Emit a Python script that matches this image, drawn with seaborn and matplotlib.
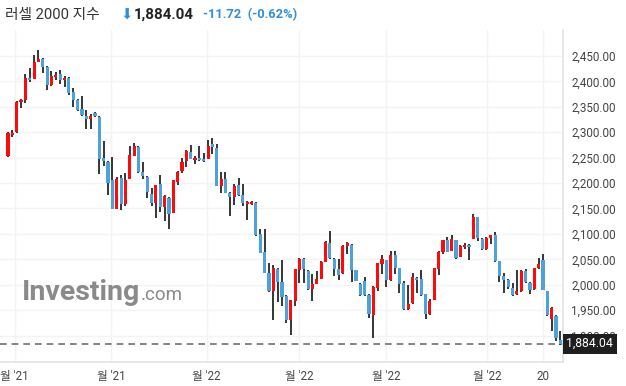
import numpy as np
import pandas as pd
import matplotlib
matplotlib.use("Agg")
import matplotlib.pyplot as plt
import seaborn as sns

# --- datos (velas semanales) ---
opens = [2254, 2294, 2300, 2359, 2363, 2407, 2405, 2439, 2444, 2428,
         2392, 2408, 2415, 2402, 2407, 2380, 2364, 2346, 2332, 2326,
         2337, 2330, 2250, 2242, 2205, 2149, 2209, 2159, 2208, 2254,
         2271, 2222, 2212, 2179, 2160, 2198, 2152, 2171, 2142, 2203,
         2223, 2243, 2262, 2245, 2250, 2248, 2248, 2276, 2269, 2195,
         2207, 2181, 2173, 2197, 2177, 2158, 2158, 2161, 2099, 2065,
         2024, 1987, 2031, 2006, 1978, 1930, 1968, 2028, 2051, 2027,
         1991, 2002, 2012, 2045, 2083, 2051, 2030, 2023, 2076, 2079,
         2028, 2002, 2008, 1980, 1941, 1994, 2040, 2048, 2009, 2059,
         2032, 2003, 1952, 1964, 2014, 2012, 1981, 1942, 1970, 2030,
         2065, 2087, 2067, 2087, 2055, 2074, 2079, 2090, 2133, 2090,
         2071, 2091, 2097, 2046, 2018, 2010, 1994, 1981, 1987, 2027,
         2004, 1991, 2032, 2048, 1987, 1933, 1939, 1891]
highs = [2300, 2304, 2362, 2365, 2414, 2426, 2451, 2461, 2445, 2430,
         2420, 2419, 2422, 2411, 2408, 2387, 2365, 2371, 2344, 2336,
         2339, 2331, 2283, 2243, 2252, 2212, 2216, 2220, 2272, 2278,
         2272, 2242, 2213, 2190, 2197, 2216, 2176, 2172, 2206, 2223,
         2250, 2264, 2275, 2254, 2273, 2259, 2285, 2288, 2277, 2222,
         2222, 2182, 2199, 2209, 2198, 2164, 2165, 2162, 2110, 2110,
         2043, 2038, 2032, 2048, 1979, 1970, 2031, 2053, 2053, 2028,
         2021, 2027, 2046, 2086, 2106, 2052, 2050, 2078, 2085, 2080,
         2029, 2003, 2016, 1981, 1997, 2043, 2059, 2049, 2066, 2066,
         2033, 2008, 1999, 2023, 2015, 2028, 1982, 1971, 2033, 2066,
         2088, 2094, 2098, 2088, 2078, 2082, 2080, 2140, 2134, 2091,
         2093, 2098, 2104, 2047, 2023, 2011, 2003, 2028, 2028, 2030,
         2005, 2033, 2053, 2061, 1988, 1956, 1940, 1909]
lows = [2252, 2290, 2299, 2347, 2358, 2398, 2404, 2438, 2416, 2383,
        2391, 2402, 2394, 2389, 2373, 2350, 2342, 2332, 2306, 2306,
        2330, 2218, 2233, 2176, 2148, 2148, 2146, 2155, 2207, 2253,
        2220, 2208, 2170, 2155, 2131, 2144, 2125, 2110, 2141, 2196,
        2220, 2232, 2247, 2237, 2244, 2242, 2247, 2257, 2194, 2180,
        2180, 2135, 2156, 2175, 2155, 2128, 2157, 2096, 2062, 2023,
        1986, 1931, 1966, 1959, 1924, 1901, 1959, 2004, 2004, 1989,
        1968, 2001, 2011, 2044, 2051, 2017, 2010, 2022, 2061, 2006,
        2007, 1978, 1978, 1934, 1896, 1987, 2022, 1996, 2008, 2022,
        1984, 1951, 1951, 1963, 1983, 1978, 1933, 1941, 1969, 2020,
        2060, 2064, 2066, 2051, 2054, 2071, 2049, 2089, 2086, 2069,
        2068, 2080, 2045, 2006, 1983, 1991, 1978, 1980, 1986, 2004,
        1982, 1990, 2031, 1989, 1939, 1909, 1890, 1882]
closes = [2298, 2298, 2360, 2364, 2406, 2402, 2438, 2444, 2429, 2392,
          2411, 2413, 2402, 2407, 2378, 2364, 2344, 2333, 2326, 2332,
          2331, 2247, 2243, 2200, 2149, 2207, 2159, 2205, 2256, 2273,
          2221, 2213, 2182, 2160, 2196, 2152, 2175, 2140, 2205, 2222,
          2241, 2263, 2248, 2249, 2245, 2243, 2273, 2270, 2195, 2207,
          2181, 2172, 2195, 2176, 2161, 2163, 2163, 2097, 2063, 2024,
          1987, 2033, 2005, 1976, 1930, 1969, 2030, 2051, 2030, 1991,
          2002, 2012, 2045, 2085, 2052, 2030, 2020, 2077, 2082, 2029,
          2008, 1979, 1979, 1943, 1996, 2042, 2050, 2009, 2059, 2032,
          2002, 1952, 1963, 2016, 2009, 1979, 1942, 1968, 2032, 2065,
          2087, 2065, 2089, 2052, 2077, 2079, 2074, 2133, 2091, 2070,
          2092, 2097, 2046, 2017, 2010, 1995, 1979, 1987, 2027, 2005,
          1989, 2032, 2040, 1990, 1940, 1955, 1895, 1884.04]

month_ticks = [1.5, 23.7, 45.7, 66.9, 86.9, 110.1, 123.0]
month_labels = ["월 '21", "월 '21", "월 '22", "월 '22", "월 '22", "월 '22", "20"]
price_ticks = list(range(1900, 2451, 50))
last_price = 1884.04

df = pd.DataFrame({"open": opens, "high": highs, "low": lows, "close": closes})
df["idx"] = np.arange(len(df))
df["up"] = df["close"] >= df["open"]

UP = "#ff0a0a"
DOWN = "#4ca3dc"

sns.set_style("white")
plt.rcParams["font.family"] = ["Roboto", "Noto Sans CJK KR", "DejaVu Sans"]

fig = plt.figure(figsize=(6.26, 3.86), dpi=100)
ax = fig.add_axes([0, 1 - 362 / 386, 563 / 626, (362 - 30) / 386])

# mechas
ax.vlines(df["idx"], df["low"], df["high"], color="#262626", lw=1.3, zorder=2)
# cuerpos
body_bottom = df[["open", "close"]].min(axis=1)
body_height = (df["close"] - df["open"]).abs()
ax.bar(df["idx"], body_height, bottom=body_bottom, width=0.72,
       color=np.where(df["up"], UP, DOWN), linewidth=0, zorder=3)

ax.set_xlim(-1.84, 127.6)
ax.set_ylim(1848, 2501)

ax.set_yticks(price_ticks)
ax.set_yticklabels([f"{p:,.2f}" for p in price_ticks])
ax.yaxis.tick_right()
ax.tick_params(axis="y", length=0, pad=6, labelsize=8.4, labelcolor="#444444")
ax.set_xticks(month_ticks)
ax.set_xticklabels(month_labels)
ax.tick_params(axis="x", length=0, pad=6, labelsize=8.4, labelcolor="#444444")

ax.grid(True, color="#f3f3f3", lw=1)
ax.set_axisbelow(True)
for side in ["top", "left"]:
    ax.spines[side].set_visible(False)
for side in ["right", "bottom"]:
    ax.spines[side].set_color("#e3e3e3")
    ax.spines[side].set_linewidth(1.2)

# precio actual
ax.axhline(last_price, color="#6f6f6f", lw=1.2, ls=(0, (4, 3)), zorder=1)
ax.text(1.006, last_price, f"{last_price:,.2f}", transform=ax.get_yaxis_transform(),
        ha="left", va="center", color="white", fontsize=8.8, zorder=10, clip_on=False,
        bbox=dict(boxstyle="square,pad=0.3", fc="#1e1e1e", ec="none"))

# marca de agua
fig.text(22 / 626, 1 - 293 / 386, "Investing", fontsize=20.5, fontweight="bold",
         color="#8a8a8a", ha="left", va="center")
fig.text(141 / 626, 1 - 295 / 386, ".com", fontsize=13.5, color="#8a8a8a",
         ha="left", va="center")

# título
fig.text(5 / 626, 1 - 15 / 386, "러셀 2000 지수", fontsize=10.6, color="#333333",
         ha="left", va="center")
fig.text(120 / 626, 1 - 15 / 386, "⬇", fontsize=10.5, color="#2f8fdc",
         ha="left", va="center", fontfamily="DejaVu Sans")
fig.text(134 / 626, 1 - 15 / 386, "1,884.04", fontsize=10.8, fontweight="bold",
         color="#222222", ha="left", va="center")
fig.text(203 / 626, 1 - 15 / 386, "-11.72  (-0.62%)", fontsize=9.3, fontweight="bold",
         color="#2f8fdc", ha="left", va="center")

fig.savefig("out.png", dpi=100)
